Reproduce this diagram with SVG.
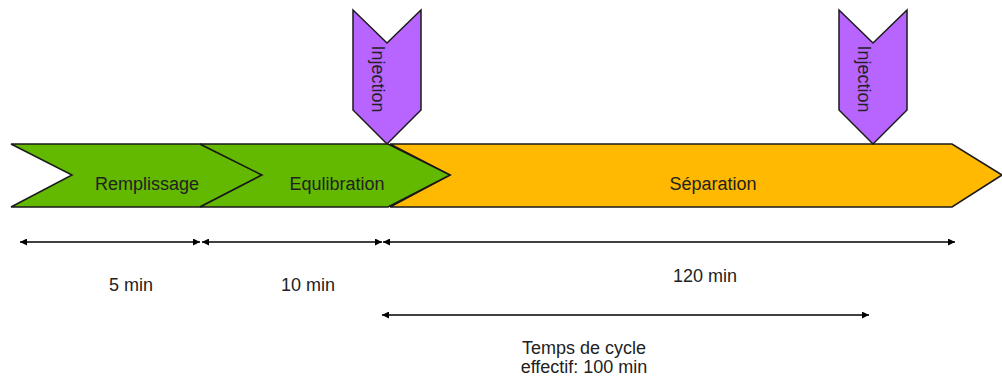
<svg xmlns="http://www.w3.org/2000/svg" width="1002" height="379" viewBox="0 0 1002 379">
<defs>
<style>
.lbl{font-family:"Liberation Sans",Arial,sans-serif;font-size:18px;fill:#222;text-anchor:middle}
.green{fill:#63B800;stroke:#1a1a1a;stroke-width:1.5;stroke-linejoin:miter}
.orange{fill:#FFB900;stroke:#1a1a1a;stroke-width:1.5}
.purple{fill:#B865FF;stroke:#1a1a1a;stroke-width:1.5}
.dim{stroke:#000;stroke-width:1.3;fill:none;marker-start:url(#ah);marker-end:url(#ah)}
</style>
<marker id="ah" viewBox="0 0 10 10" refX="10" refY="5" markerWidth="8" markerHeight="7" markerUnits="userSpaceOnUse" orient="auto-start-reverse">
<path d="M0,0 L10,5 L0,10 z" fill="#000"/>
</marker>
</defs>
<rect width="1002" height="379" fill="#fff"/>
<g id="separation">
<polygon class="orange" points="390,144 952,144 1002,175 952,207 390,207 450,175"/>
<text class="lbl" x="713" y="190">Séparation</text>
</g>
<g id="remplissage">
<polygon class="green" points="11,144 200,144 262,175 200,207 11,207 72,175"/>
<text class="lbl" x="147" y="190">Remplissage</text>
</g>
<g id="equlibration">
<polygon class="green" points="200,144 388,144 450,175 388,207 200,207 262,175"/>
<text class="lbl" x="337" y="190">Equlibration</text>
</g>
<g id="injection1">
<polygon class="purple" points="353,10 387,43 421,10 421,110 387,144 353,110"/>
<text class="lbl" transform="translate(372,79) rotate(90)">Injection</text>
</g>
<g id="injection2">
<polygon class="purple" points="839,10 873,43 907,10 907,110 873,144 839,110"/>
<text class="lbl" transform="translate(858,79) rotate(90)">Injection</text>
</g>
<g id="connectors">
<line class="dim" x1="20" y1="242" x2="200" y2="242"/>
<line class="dim" x1="202" y1="242" x2="382" y2="242"/>
<line class="dim" x1="383" y1="242" x2="955" y2="242"/>
<line class="dim" x1="382" y1="315" x2="869" y2="315"/>
</g>
<g id="labels">
<text class="lbl" x="131" y="291">5 min</text>
<text class="lbl" x="308" y="291">10 min</text>
<text class="lbl" x="705" y="282">120 min</text>
<text class="lbl" x="584" y="354">Temps de cycle</text>
<text class="lbl" x="584" y="373">effectif: 100 min</text>
</g>
</svg>
